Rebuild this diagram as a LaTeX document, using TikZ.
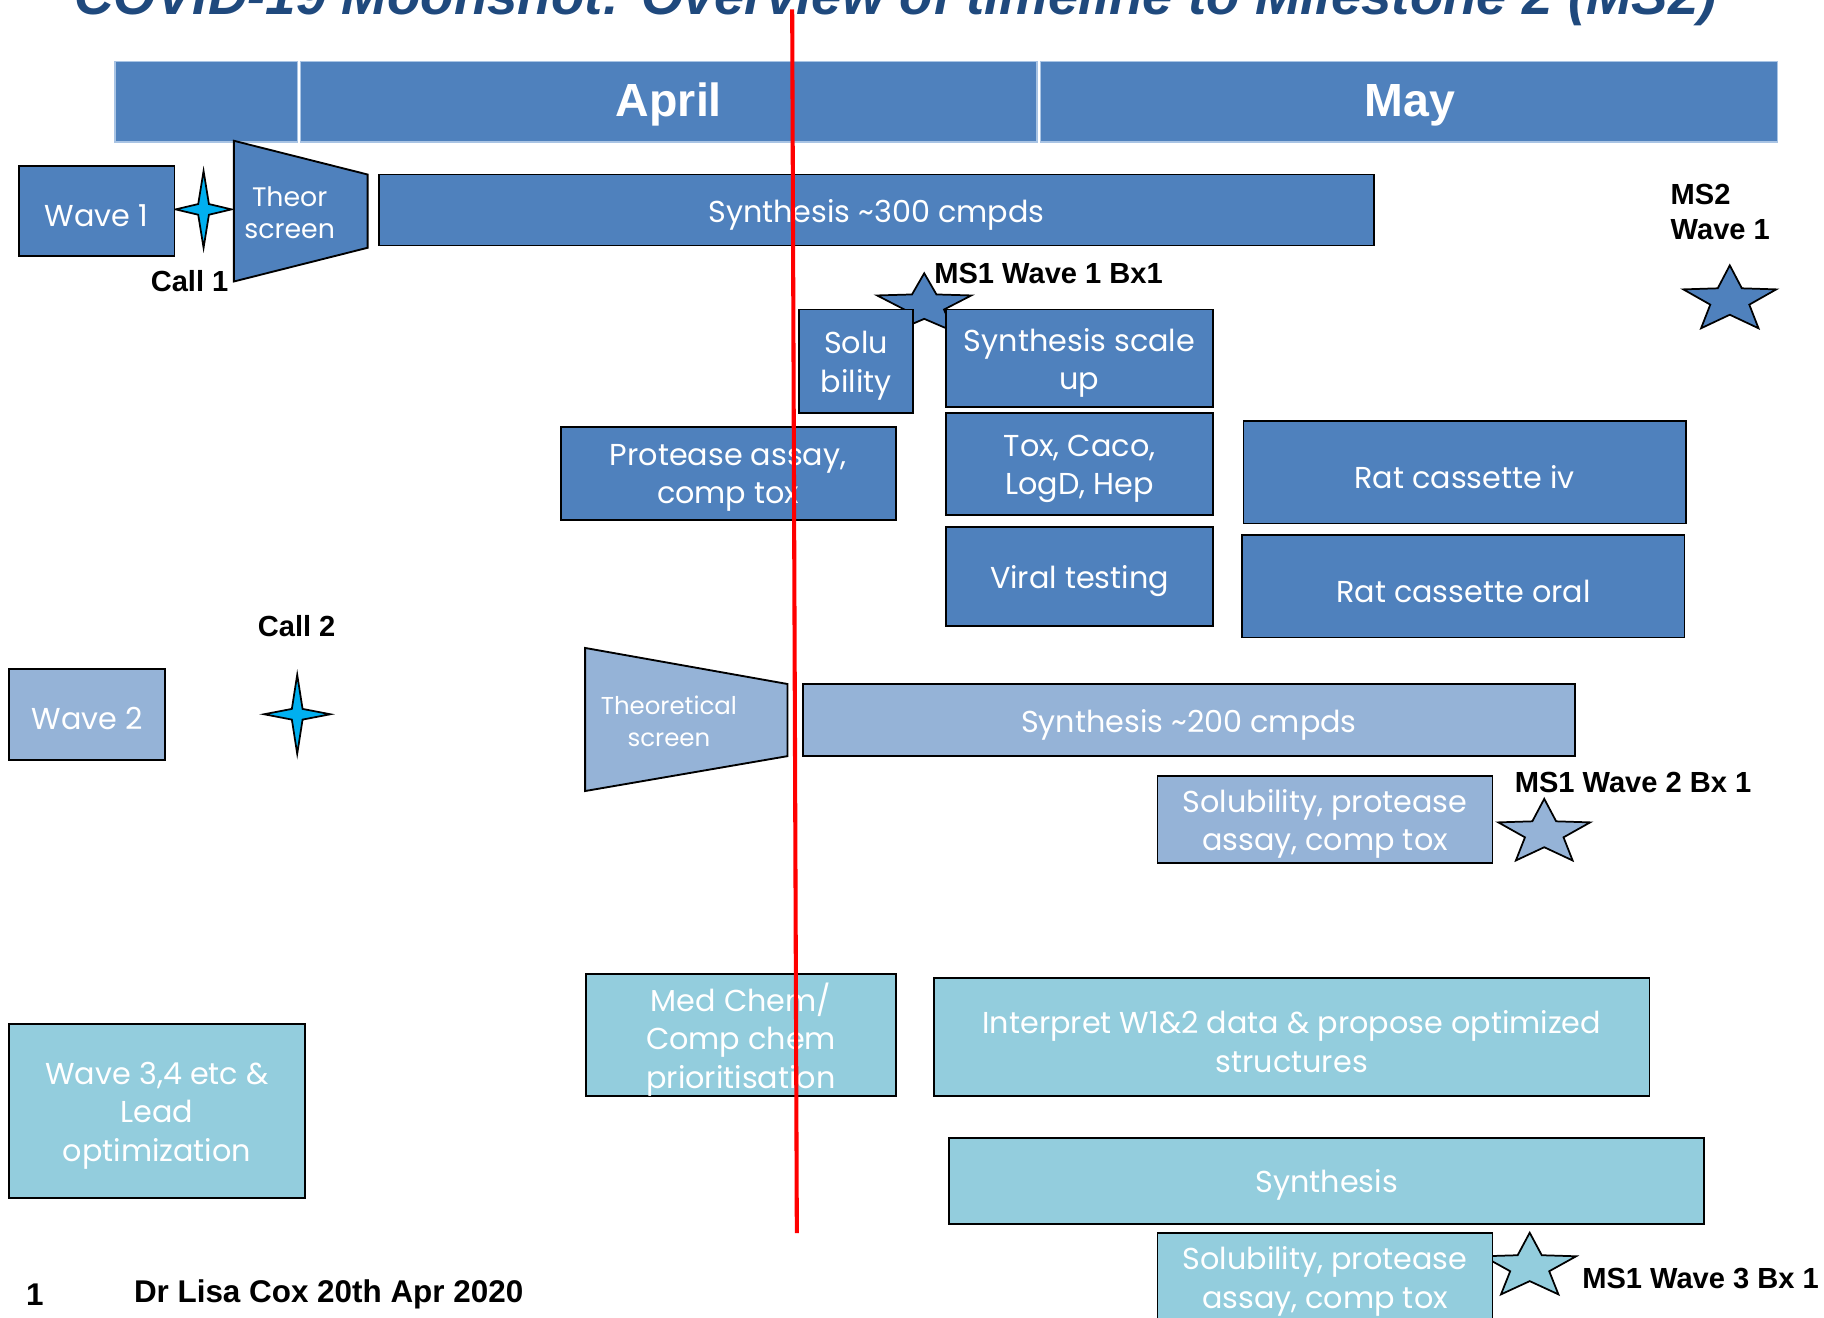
\documentclass[tikz,border=0pt]{standalone}
\usepackage{fontspec}
\setmainfont{Liberation Sans}
\newfontfamily\gothic{Poppins}
\definecolor{dblue}{HTML}{4F81BD}
\definecolor{lblue}{HTML}{95B3D7}
\definecolor{lteal}{HTML}{93CDDD}
\definecolor{titleblue}{HTML}{1F497D}
\definecolor{cyanstar}{HTML}{00B0F0}
\definecolor{hdrline}{HTML}{A9C4E4}
\tikzset{
  pics/fstar/.style n args={3}{code={
    \draw[fill=#3, line width=1.5pt, line join=miter]
      plot[variable=\k, samples at={0,...,9}]
      ({((mod(\k,2)==0)?1:0.42)*#1*sin(36*\k)}, {-((mod(\k,2)==0)?1:0.42)*#2*cos(36*\k)}) -- cycle;
  }},
  pics/qstar/.style n args={2}{code={
    \draw[fill=cyanstar, line width=1.5pt, line join=miter]
      plot[variable=\k, samples at={0,...,7}]
      ({((mod(\k,2)==0)?#1:6.5)*sin(45*\k)}, {-((mod(\k,2)==0)?#2:6.5)*cos(45*\k)}) -- cycle;
  }}
}
% box shape + its text (text set a little lower, as in the reference)
\newcommand\tbox[7]{%
  \node[box, fill=#2, minimum width=#5, minimum height=#6] (#1) at (#3,#4) {};
  \node[boxtxt] (#1-t) at ([yshift=-4pt]#1.center) {#7};}
\begin{document}
\begin{tikzpicture}[x=1pt,y=-1pt,
  box/.style={draw=black, line width=1.6pt, inner sep=0pt},
  boxtxt/.style={align=center, text=white, inner sep=0pt,
    font=\gothic\fontsize{26}{33}\selectfont},
  hdr/.style={fill=dblue, draw=hdrline, line width=1.2pt, inner sep=0pt, minimum height=69},
  month/.style={text=white, font=\bfseries\fontsize{40}{44}\selectfont, inner sep=0pt},
  lbl/.style={text=black, font=\bfseries\fontsize{25}{30}\selectfont, inner sep=0pt},
  foot/.style={text=black, font=\bfseries\fontsize{27}{30}\selectfont, inner sep=0pt},
  trap/.style={draw=black, line width=1.6pt, line join=miter},
  traptext/.style={text=white, align=center, inner sep=0pt}
]
\clip (0,0) rectangle (1568,1133);
\fill[white] (0,0) rectangle (1568,1133);

% title (cut off at top)
\node[anchor=base, text=titleblue, inner sep=0pt, font=\bfseries\itshape\fontsize{47}{50}\selectfont] (title) at (770,12.5) {COVID-19 Moonshot: Overview of timeline to Milestone 2 (MS2)};

% header
\node[hdr, minimum width=156.5] (h0) at (177.25,87.5) {};
\node[hdr, minimum width=633] (h1) at (575,87.5) {};
\node[hdr, minimum width=633.5] (h2) at (1211.25,87.5) {};
\node[month, anchor=base] (apr) at (575,100) {April};
\node[month, anchor=base] (may) at (1212,100) {May};

% stars behind boxes
\pic at (794.5,262.5) {fstar={42.6}{27.6}{dblue}};
\pic at (1487,258) {fstar={42}{29.9}{dblue}};
\pic at (1327.5,716) {fstar={41.5}{29.3}{lblue}};
\pic at (1315,1089) {fstar={42}{29.3}{lteal}};
\pic at (175,180) {qstar={24}{33}};
\pic at (255.5,614) {qstar={28.5}{34}};

% Wave 1 row
\tbox{w1}{dblue}{83}{181.5}{134}{77}{Wave 1}
\draw[trap, fill=dblue] (201,121) -- (316,150) -- (316,213) -- (201,242) -- cycle;
\node[traptext, font=\gothic\fontsize{23}{27}\selectfont] (ts1) at (249,183) {Theor\\screen};
\tbox{syn300}{dblue}{753.5}{180.5}{855}{61}{Synthesis \textasciitilde300 cmpds}
\tbox{solu}{dblue}{736}{310.5}{98}{89}{Solu\\bility}
\tbox{scale}{dblue}{928}{308}{230}{84}{Synthesis scale\\up}
\tbox{tox}{dblue}{928}{399}{230}{88}{Tox, Caco,\\LogD, Hep}
\tbox{viral}{dblue}{928}{495.5}{230}{85}{Viral testing}
\tbox{prot}{dblue}{626}{407}{288}{80}{Protease assay,\\comp tox}
\tbox{rativ}{dblue}{1259}{406}{380}{88}{Rat cassette iv}
\tbox{ratoral}{dblue}{1258}{504}{380}{88}{Rat cassette oral}

% Wave 2 row
\tbox{w2}{lblue}{75}{614}{134}{78}{Wave 2}
\draw[trap, fill=lblue] (503,557) -- (677,588) -- (677,650) -- (503,680) -- cycle;
\node[traptext, font=\gothic\fontsize{21}{27}\selectfont] (ts2) at (575,620) {Theoretical\\screen};
\tbox{syn200}{lblue}{1022}{619}{664}{62}{Synthesis \textasciitilde200 cmpds}
\tbox{sol2}{lblue}{1139}{704.5}{288}{75}{Solubility, protease\\assay, comp tox}

% Wave 3 row
\tbox{w3}{lteal}{135}{955}{254}{150}{Wave 3,4 etc \&\\Lead\\optimization}
\tbox{medchem}{lteal}{637}{889.5}{266}{105}{Med Chem/\\Comp chem\\prioritisation}
\tbox{interp}{lteal}{1110.5}{891.5}{615}{101}{Interpret W1\&2 data \& propose optimized\\structures}
\tbox{syn3}{lteal}{1140.5}{1015}{649}{74}{Synthesis}
\tbox{sol3}{lteal}{1139}{1097.5}{288}{75}{Solubility, protease\\assay, comp tox}

% labels
\node[lbl] (call1) at (163,242) {Call 1};
\node[lbl, anchor=west] (ms1w1) at (803,235) {MS1 Wave 1 Bx1};
\node[lbl, anchor=west, align=left] (ms2) at (1436,182) {MS2\\Wave 1};
\node[lbl] (call2) at (255,538) {Call 2};
\node[lbl, anchor=west] (ms1w2) at (1302,673) {MS1 Wave 2 Bx 1};
\node[lbl, anchor=west] (ms1w3) at (1360,1099) {MS1 Wave 3 Bx 1};
\node[foot] (pg) at (30,1113) {1};
\node[foot, anchor=west] (author) at (115,1113) {Dr Lisa Cox 20th Apr 2020};

% red "today" line
\coordinate (rt) at (681,8);
\coordinate (rb) at (685,1060);
\draw[red, line width=3.5pt] (rt) -- (rb);
\end{tikzpicture}
\end{document}
